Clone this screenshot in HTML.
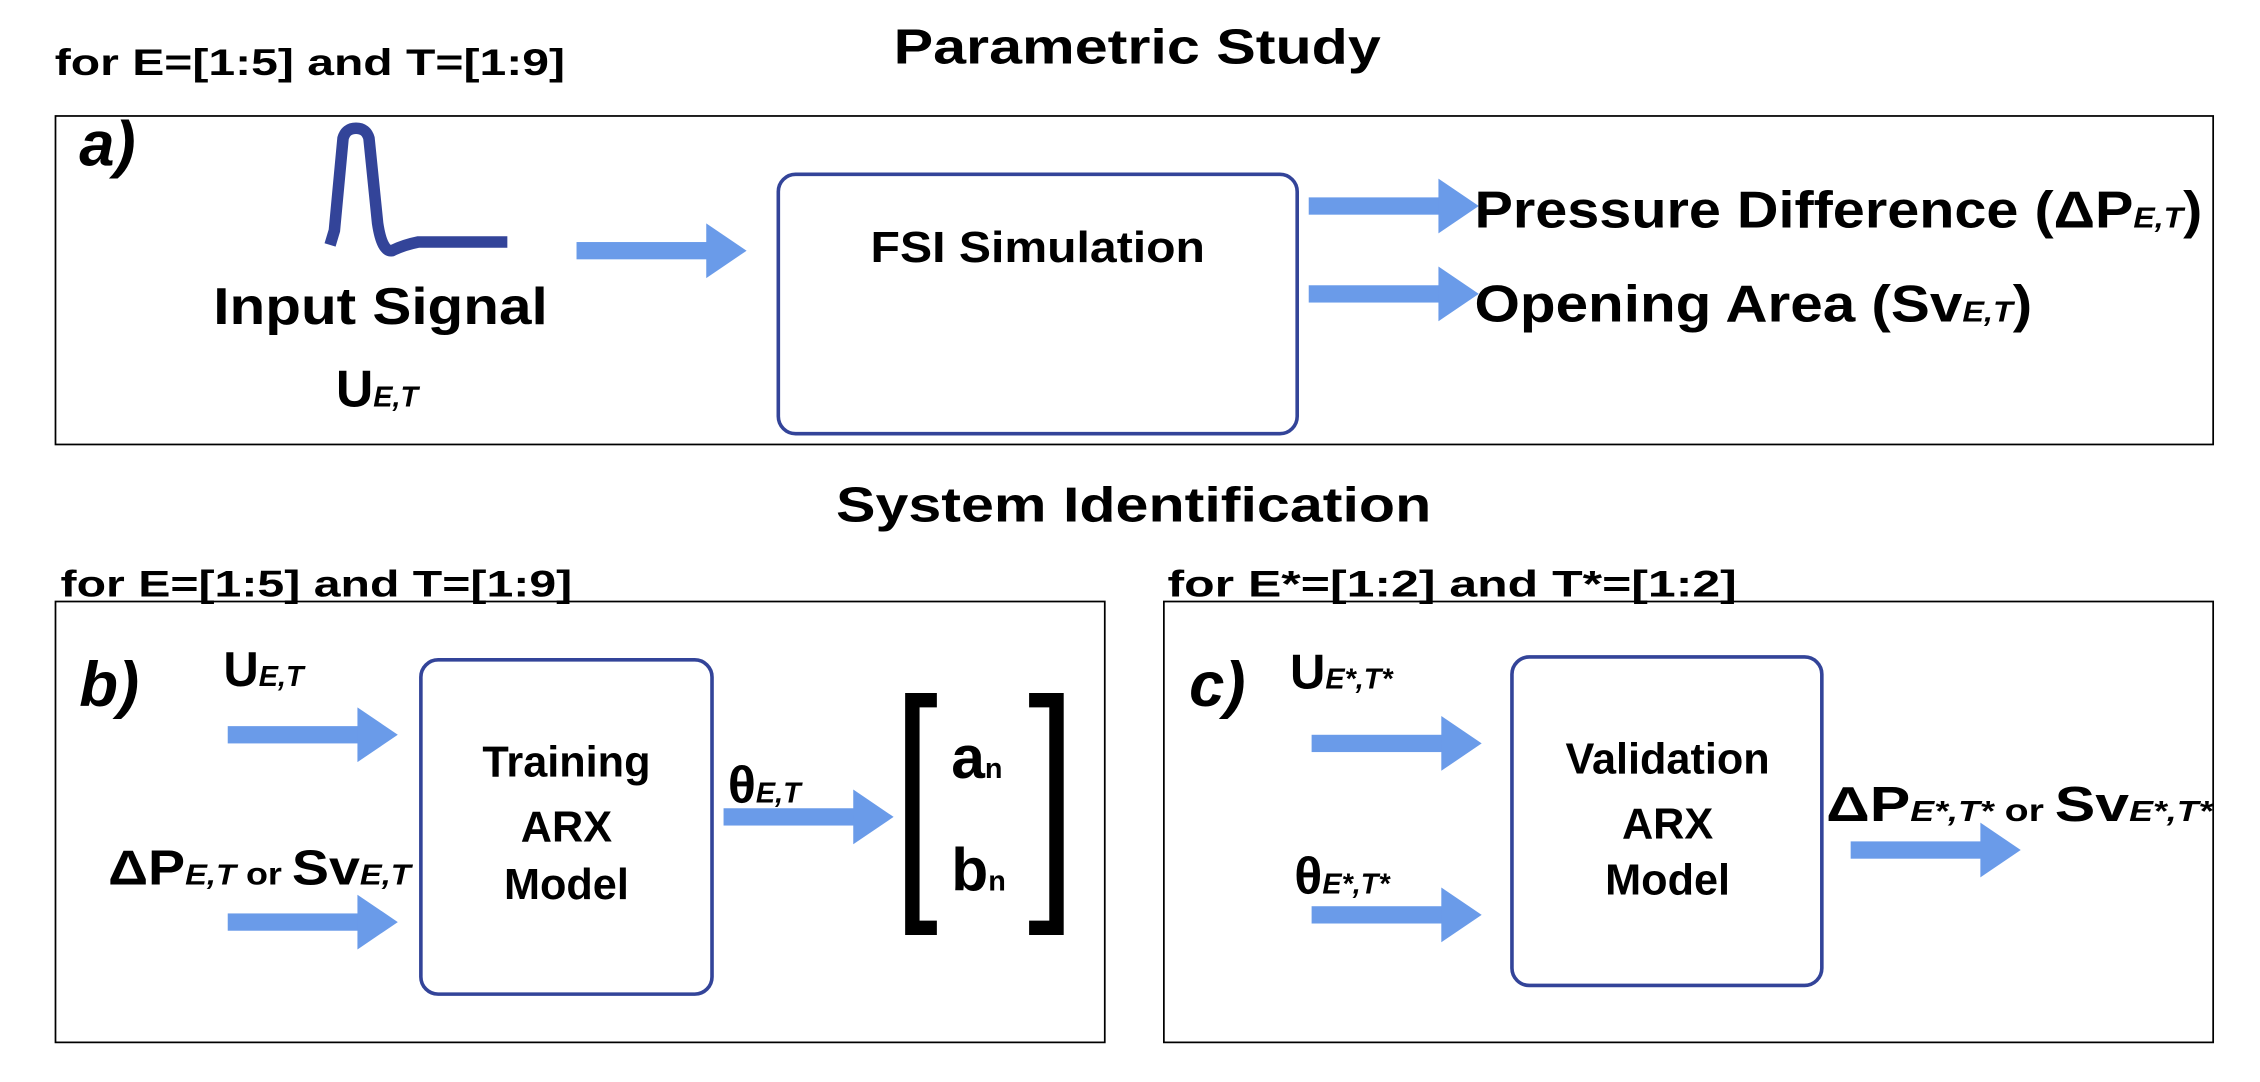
<!DOCTYPE html>
<html><head><meta charset="utf-8"><style>
html,body{margin:0;padding:0;background:#fff;}
svg{display:block;}
text{font-family:"Liberation Sans",sans-serif;font-weight:bold;fill:#000;}
.s{font-style:italic;}
</style></head><body>
<svg width="2260" height="1082" viewBox="0 0 1568 751" preserveAspectRatio="none" xmlns="http://www.w3.org/2000/svg">
<defs>
<g id="arr"><rect x="0" y="-6" width="92" height="12" fill="#6a9be9"/><polygon points="90,-19 118,0 90,19" fill="#6a9be9"/></g>
</defs>
<!-- Top -->
<text x="620" y="44" font-size="34" textLength="338" lengthAdjust="spacingAndGlyphs">Parametric Study</text>
<text x="38" y="52" font-size="26" textLength="354" lengthAdjust="spacingAndGlyphs">for E=[1:5] and T=[1:9]</text>
<rect x="38.5" y="80.5" width="1497" height="228" fill="none" stroke="#000" stroke-width="1.2"/>
<text x="55" y="115" font-size="44" class="s">a)</text>
<path d="M229,170 L232,160 L238,96 Q240,89 247,89 Q254,89 256,96 L262,155 Q265,175 272,174 Q280,170 290,168 L352,168" fill="none" stroke="#334499" stroke-width="8"/>
<text x="148" y="225" font-size="36" textLength="232" lengthAdjust="spacingAndGlyphs">Input Signal</text>
<text x="233" y="282" font-size="36">U<tspan class="s" font-size="20">E,T</tspan></text>
<use href="#arr" x="400" y="174"/>
<rect x="540" y="121" width="360" height="180" rx="12" fill="none" stroke="#334499" stroke-width="2.5"/>
<text x="604" y="182" font-size="30" textLength="232" lengthAdjust="spacingAndGlyphs">FSI Simulation</text>
<use href="#arr" x="908" y="143"/>
<use href="#arr" x="908" y="204"/>
<text x="1023" y="158" font-size="36" textLength="505" lengthAdjust="spacingAndGlyphs">Pressure Difference (ΔP<tspan class="s" font-size="20">E,T</tspan>)</text>
<text x="1023" y="223" font-size="36" textLength="387" lengthAdjust="spacingAndGlyphs">Opening Area (Sv<tspan class="s" font-size="20">E,T</tspan>)</text>
<!-- System identification -->
<text x="580" y="362" font-size="34" textLength="413" lengthAdjust="spacingAndGlyphs">System Identification</text>
<text x="42" y="414" font-size="26" textLength="355" lengthAdjust="spacingAndGlyphs">for E=[1:5] and T=[1:9]</text>
<text x="810" y="414" font-size="26" textLength="395" lengthAdjust="spacingAndGlyphs">for E*=[1:2] and T*=[1:2]</text>
<rect x="38.5" y="417.5" width="728" height="306" fill="none" stroke="#000" stroke-width="1.2"/>
<rect x="807.5" y="417.5" width="728" height="306" fill="none" stroke="#000" stroke-width="1.2"/>
<!-- b -->
<text x="55" y="490" font-size="44" class="s">b)</text>
<text x="155" y="476" font-size="34">U<tspan class="s" font-size="20">E,T</tspan></text>
<use href="#arr" x="158" y="510"/>
<text x="75" y="614" font-size="34" textLength="210" lengthAdjust="spacingAndGlyphs">ΔP<tspan class="s" font-size="20">E,T</tspan><tspan font-size="22"> or </tspan>Sv<tspan class="s" font-size="20">E,T</tspan></text>
<use href="#arr" x="158" y="640"/>
<rect x="292" y="458" width="202" height="232" rx="12" fill="none" stroke="#334499" stroke-width="2.5"/>
<text x="393" y="539" font-size="30" text-anchor="middle">Training</text>
<text x="393" y="584" font-size="30" text-anchor="middle">ARX</text>
<text x="393" y="624" font-size="30" text-anchor="middle">Model</text>
<text x="505" y="557" font-size="36">θ<tspan class="s" font-size="20">E,T</tspan></text>
<use href="#arr" x="502" y="567"/>
<path d="M650,486 L633,486 L633,644 L650,644" fill="none" stroke="#000" stroke-width="10"/>
<path d="M714,486 L733,486 L733,644 L714,644" fill="none" stroke="#000" stroke-width="10"/>
<text x="660" y="540" font-size="42">a<tspan font-size="20">n</tspan></text>
<text x="660" y="618" font-size="42">b<tspan font-size="20">n</tspan></text>
<!-- c -->
<text x="825" y="490" font-size="44" class="s">c)</text>
<text x="895" y="478" font-size="34">U<tspan class="s" font-size="20">E*,T*</tspan></text>
<use href="#arr" x="910" y="516"/>
<text x="898" y="620" font-size="36">θ<tspan class="s" font-size="20">E*,T*</tspan></text>
<use href="#arr" x="910" y="635"/>
<rect x="1049" y="456" width="215" height="228" rx="12" fill="none" stroke="#334499" stroke-width="2.5"/>
<text x="1157" y="537" font-size="30" text-anchor="middle">Validation</text>
<text x="1157" y="582" font-size="30" text-anchor="middle">ARX</text>
<text x="1157" y="621" font-size="30" text-anchor="middle">Model</text>
<text x="1267" y="570" font-size="34" textLength="268" lengthAdjust="spacingAndGlyphs">ΔP<tspan class="s" font-size="20">E*,T*</tspan><tspan font-size="22"> or </tspan>Sv<tspan class="s" font-size="20">E*,T*</tspan></text>
<use href="#arr" x="1284" y="590"/>
</svg>
</body></html>
